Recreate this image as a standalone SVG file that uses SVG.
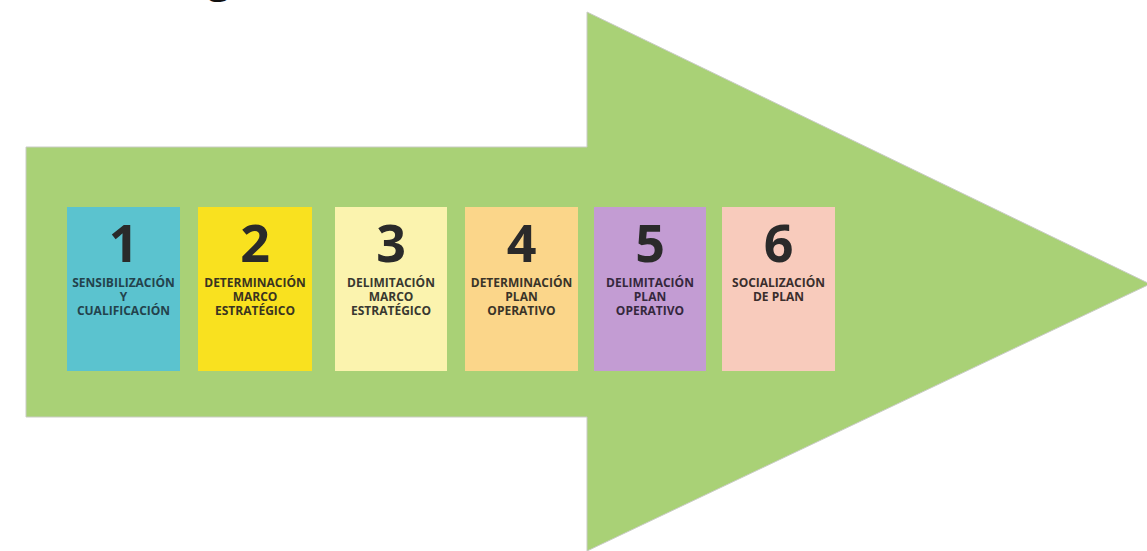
<svg xmlns="http://www.w3.org/2000/svg" width="1147" height="551" viewBox="0 0 1147 551">
<style>
.box{stroke:none}
.num{font-family:"Open Sans","Liberation Sans",sans-serif;font-weight:700;font-size:52px;fill:#2a2a2a;text-anchor:middle}
.lbl{font-family:"Open Sans","Liberation Sans",sans-serif;font-weight:700;font-size:12px;text-anchor:middle}
</style>
<rect width="1147" height="551" fill="#ffffff"/>
<text x="219" y="-7" font-family="Open Sans, Liberation Sans, sans-serif" font-weight="700" font-size="40" fill="#111" text-anchor="middle">g</text>
<g id="arrow">
<path d="M26,147 L587,147 L587,12 L1150,284 L587,551 L587,417 L26,417 Z" fill="#a9d176" stroke="#c9ccc4" stroke-width="1"/>
</g>
<g id="connectors"></g>
<g id="step1">
<rect class="box" x="67" y="207" width="113" height="164" fill="#5bc3cf"/>
<text class="num" x="123.5" y="262">1</text>
<text class="lbl" fill="#23424c" x="123.5" y="287">SENSIBILIZACIÓN</text>
<text class="lbl" fill="#23424c" x="123.5" y="301">Y</text>
<text class="lbl" fill="#23424c" x="123.5" y="315">CUALIFICACIÓN</text>
</g>
<g id="step2">
<rect class="box" x="198" y="207" width="114" height="164" fill="#f9e11f"/>
<text class="num" x="255" y="262">2</text>
<text class="lbl" fill="#3a3420" x="255" y="287">DETERMINACIÓN</text>
<text class="lbl" fill="#3a3420" x="255" y="301">MARCO</text>
<text class="lbl" fill="#3a3420" x="255" y="315">ESTRATÉGICO</text>
</g>
<g id="step3">
<rect class="box" x="335" y="207" width="112" height="164" fill="#fbf3ae"/>
<text class="num" x="391" y="262">3</text>
<text class="lbl" fill="#383830" x="391" y="287">DELIMITACIÓN</text>
<text class="lbl" fill="#383830" x="391" y="301">MARCO</text>
<text class="lbl" fill="#383830" x="391" y="315">ESTRATÉGICO</text>
</g>
<g id="step4">
<rect class="box" x="465" y="207" width="113" height="164" fill="#fbd68a"/>
<text class="num" x="521.5" y="262">4</text>
<text class="lbl" fill="#3a3428" x="521.5" y="287">DETERMINACIÓN</text>
<text class="lbl" fill="#3a3428" x="521.5" y="301">PLAN</text>
<text class="lbl" fill="#3a3428" x="521.5" y="315">OPERATIVO</text>
</g>
<g id="step5">
<rect class="box" x="594" y="207" width="112" height="164" fill="#c39cd3"/>
<text class="num" x="650" y="262">5</text>
<text class="lbl" fill="#35283d" x="650" y="287">DELIMITACIÓN</text>
<text class="lbl" fill="#35283d" x="650" y="301">PLAN</text>
<text class="lbl" fill="#35283d" x="650" y="315">OPERATIVO</text>
</g>
<g id="step6">
<rect class="box" x="722" y="207" width="113" height="164" fill="#f8cbbc"/>
<text class="num" x="778.5" y="262">6</text>
<text class="lbl" fill="#3a2e2c" x="778.5" y="287">SOCIALIZACIÓN</text>
<text class="lbl" fill="#3a2e2c" x="778.5" y="301">DE PLAN</text>
</g>
</svg>
